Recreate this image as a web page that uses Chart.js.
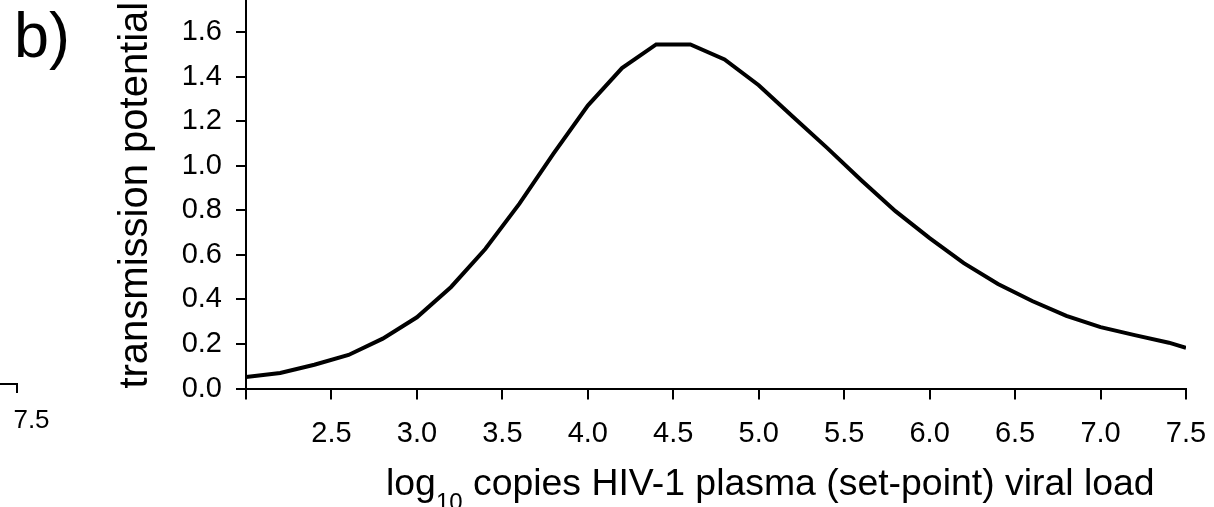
<!DOCTYPE html>
<html>
<head>
<meta charset="utf-8">
<script src="https://cdn.jsdelivr.net/npm/chart.js@4.4.1/dist/chart.umd.min.js"></script>
<style>
  html, body { margin: 0; padding: 0; background: #fff; overflow: hidden; width: 1214px; height: 507px; }
  #side { position: absolute; left: -600px; top: -60px; }
  #main { position: absolute; left: 0; top: -60px; }
</style>
</head>
<body>
<canvas id="side" width="680" height="567"></canvas>
<canvas id="main" width="1214" height="567"></canvas>
<script>
// log10 set-point viral load vs transmission potential
const viralLoad = [2.0, 2.2, 2.4, 2.6, 2.8, 3.0, 3.2, 3.4, 3.6, 3.8, 4.0, 4.2, 4.4, 4.6,
  4.8, 5.0, 5.2, 5.4, 5.6, 5.8, 6.0, 6.2, 6.4, 6.6, 6.8, 7.0, 7.2, 7.4, 7.5];
const transmissionPotential = [0.052, 0.07, 0.107, 0.151, 0.224, 0.32, 0.456, 0.626, 0.83,
  1.055, 1.27, 1.438, 1.544, 1.544, 1.477, 1.361, 1.22, 1.08, 0.935, 0.796, 0.675, 0.563,
  0.469, 0.393, 0.326, 0.276, 0.24, 0.206, 0.183];

const xMin = 2, xMax = 7.5, xStep = 0.5;
const yMin = 0, yMax = 1.8, yStep = 0.2;

const FONT = '"Liberation Sans", Arial, Helvetica, sans-serif';
Chart.defaults.font.family = FONT;
Chart.defaults.color = '#000';

// panel letter + x axis title (has a subscript, so drawn by hand)
const panelText = {
  id: 'panelText',
  afterDraw(chart) {
    const ctx = chart.ctx;
    ctx.save();
    ctx.fillStyle = '#000';
    ctx.textBaseline = 'alphabetic';
    ctx.textAlign = 'left';
    ctx.font = '63px ' + FONT;
    ctx.fillText('b)', 14, 117);

    let x = 386;
    const y = 555;
    ctx.font = '37.4px ' + FONT;
    ctx.fillText('log', x, y);
    x += ctx.measureText('log').width;
    ctx.font = '24px ' + FONT;
    ctx.fillText('10', x, y + 15);
    x += ctx.measureText('10').width;
    ctx.font = '37.4px ' + FONT;
    ctx.fillText(' copies HIV-1 plasma (set-point) viral load', x, y);
    ctx.restore();
  }
};

const axisGrid = (len) => ({
  drawOnChartArea: false,
  color: '#000',
  lineWidth: 2,
  tickLength: len
});

// keep the plot edge where layout.padding puts it, not pushed in by the end label
const fixHeight = (h) => (scale) => {
  scale.height = h;
  scale.paddingLeft = 0;
  scale.paddingRight = 0;
};

new Chart(document.getElementById('main'), {
  type: 'line',
  data: {
    datasets: [{
      data: viralLoad.map((v, i) => ({ x: v, y: transmissionPotential[i] })),
      borderColor: '#000',
      borderWidth: 4,
      pointRadius: 0,
      tension: 0,
      fill: false
    }]
  },
  options: {
    responsive: false,
    animation: false,
    devicePixelRatio: 1,
    layout: { padding: { top: 47.4, right: 28, left: 0, bottom: 0 } },
    plugins: { legend: { display: false }, tooltip: { enabled: false } },
    scales: {
      x: {
        type: 'linear',
        min: xMin,
        max: xMax,
        afterFit: fixHeight(118.4),
        ticks: {
          stepSize: xStep,
          font: { size: 29 },
          color: '#000',
          padding: 17,
          maxRotation: 0,
          autoSkip: false,
          callback: (v) => (v === xMin ? '' : v.toFixed(1))
        },
        grid: axisGrid(11),
        border: { color: '#000', width: 2 }
      },
      y: {
        min: yMin,
        max: yMax,
        afterFit(scale) { scale.width = 246; },
        ticks: {
          stepSize: yStep,
          font: { size: 29 },
          color: '#000',
          padding: 14,
          callback: (v) => v.toFixed(1)
        },
        grid: axisGrid(10),
        border: { color: '#000', width: 2 },
        title: {
          display: true,
          text: 'transmission potential',
          font: { size: 40 },
          color: '#000',
          align: 'start',
          padding: { top: 112, bottom: 0 }
        }
      }
    }
  },
  plugins: [panelText]
});

// leftover x axis end of the neighbouring panel a)
new Chart(document.getElementById('side'), {
  type: 'line',
  data: { datasets: [{ data: [] }] },
  options: {
    responsive: false,
    animation: false,
    devicePixelRatio: 1,
    layout: { padding: { top: 20, right: 63, left: 0, bottom: 0 } },
    plugins: { legend: { display: false }, tooltip: { enabled: false } },
    scales: {
      x: {
        type: 'linear',
        min: xMin,
        max: xMax,
        afterFit: fixHeight(123),
        ticks: {
          stepSize: xStep,
          font: { size: 26 },
          color: '#000',
          padding: 12.4,
          labelOffset: 14.5,
          maxRotation: 0,
          autoSkip: false,
          callback: (v) => v.toFixed(1)
        },
        grid: axisGrid(9),
        border: { color: '#000', width: 2 }
      },
      y: { display: false, min: 0, max: 1 }
    }
  }
});
</script>
</body>
</html>
